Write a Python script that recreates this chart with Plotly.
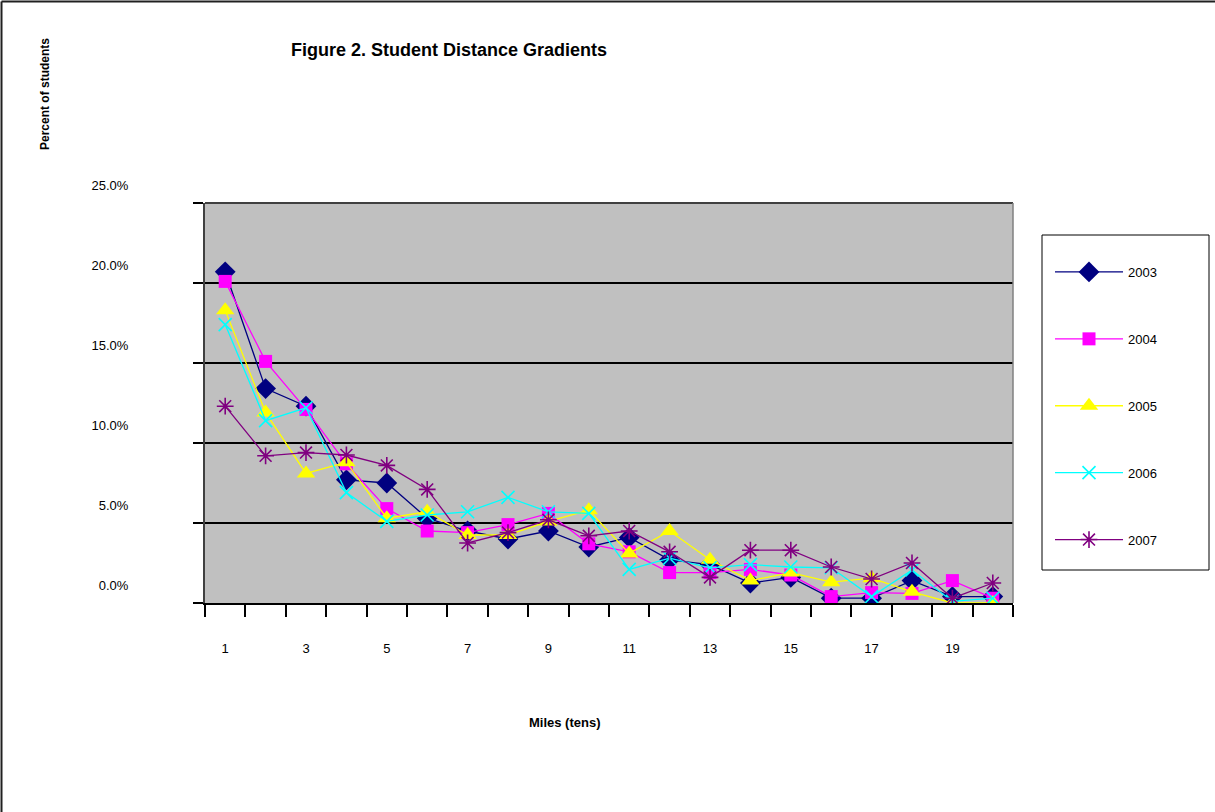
import plotly.graph_objects as go

# ---- data ----
miles = list(range(1, 21))
x_tick_vals = [1, 3, 5, 7, 9, 11, 13, 15, 17, 19]
x_tick_text = ["1", "3", "5", "7", "9", "11", "13", "15", "17", "19"]
y_tick_vals = [0, 0.05, 0.10, 0.15, 0.20, 0.25]

pct_2003 = [0.207, 0.134, 0.123, 0.077, 0.075, 0.053, 0.045, 0.040, 0.045, 0.035,
            0.041, 0.027, 0.024, 0.0125, 0.016, 0.003, 0.003, 0.014, 0.004, 0.004]
pct_2004 = [0.201, 0.151, 0.121, 0.087, 0.059, 0.045, 0.044, 0.049, 0.056, 0.037,
            0.032, 0.019, 0.019, 0.021, 0.0175, 0.004, 0.0065, 0.006, 0.014, 0.003]
pct_2005 = [0.183, 0.119, 0.081, 0.088, 0.053, 0.057, 0.0425, 0.0425, 0.051, 0.058,
            0.031, 0.045, 0.027, 0.014, 0.019, 0.013, 0.0155, 0.007, 0.000, 0.000]
pct_2006 = [0.174, 0.114, 0.122, 0.069, 0.051, 0.055, 0.057, 0.066, 0.057, 0.056,
            0.021, 0.028, 0.022, 0.024, 0.0225, 0.022, 0.004, 0.0206, 0.001, 0.003]
pct_2007 = [0.123, 0.092, 0.094, 0.0925, 0.086, 0.071, 0.0375, 0.044, 0.052, 0.042,
            0.045, 0.032, 0.016, 0.033, 0.033, 0.0225, 0.015, 0.025, 0.003, 0.0125]

series = [
    ("2003", pct_2003, "#000080", "diamond", 16),
    ("2004", pct_2004, "#FF00FF", "square", 13),
    ("2005", pct_2005, "#FFFF00", "triangle-up", 16),
    ("2006", pct_2006, "#00FFFF", "x-thin-open", 13),
    ("2007", pct_2007, "#800080", "asterisk-open", 14),
]

FONT = "Arial, 'Liberation Sans', sans-serif"

# plot area in pixels
L, R, T, B = 205, 1013, 203, 603
W, H = 1215, 812
pw, ph = R - L, B - T


def px(xp):
    return (xp - L) / pw


def py(yp):
    return (B - yp) / ph


fig = go.Figure()
for name, vals, color, symbol, size in series:
    open_sym = symbol.endswith("open")
    fig.add_trace(go.Scatter(
        x=miles, y=vals, name=name, mode="lines+markers",
        legendgroup=name,
        line=dict(color=color, width=1.3),
        marker=dict(symbol=symbol, size=size, color=color,
                    line=dict(color=color, width=1.6 if open_sym else 0)),
    ))

fig.update_layout(
    width=W, height=H,
    margin=dict(l=L, r=W - R, t=T, b=H - B, pad=0),
    paper_bgcolor="white",
    plot_bgcolor="#C0C0C0",
    font=dict(family=FONT, size=13, color="black"),
    title=dict(text="<b>Figure 2. Student Distance Gradients</b>",
               x=449 / W, xanchor="center", y=1 - 50 / H, yanchor="middle",
               font=dict(family=FONT, size=18, color="black")),
    showlegend=True,
    legend=dict(x=px(1050), xanchor="left", y=py(257), yanchor="top",
                bgcolor="rgba(0,0,0,0)", borderwidth=0,
                font=dict(family=FONT, size=13, color="black"),
                tracegroupgap=47, itemwidth=68, traceorder="grouped"),
    xaxis=dict(range=[0.5, 20.5], tickmode="array", tickvals=x_tick_vals,
               ticktext=x_tick_text, ticks="", showgrid=False, zeroline=False,
               showline=True, linecolor="black", linewidth=2, mirror=False,
               ticklabelstandoff=32,
               tickfont=dict(family=FONT, size=13, color="black"),
               minor=dict(tickvals=[i + 0.5 for i in range(0, 21)], ticks="outside",
                          ticklen=12, tickwidth=2, tickcolor="black", showgrid=False)),
    yaxis=dict(range=[0, 0.25], tickmode="array", tickvals=y_tick_vals,
               tickformat=".1%", ticks="outside", ticklen=10, tickwidth=2,
               tickcolor="black", showgrid=True, gridcolor="black", gridwidth=1.6,
               zeroline=False, showline=True, linecolor="#404040", linewidth=2,
               ticklabelshift=-18, ticklabelstandoff=62,
               tickfont=dict(family=FONT, size=13, color="black")),
)

shapes = [
    # top border of plot area and right border
    dict(type="line", xref="paper", yref="paper", x0=0, x1=1, y0=1, y1=1,
         line=dict(color="#404040", width=2)),
    dict(type="line", xref="paper", yref="paper", x0=1, x1=1, y0=0, y1=1,
         line=dict(color="#808080", width=1.5)),
    # legend box
    dict(type="rect", xref="paper", yref="paper", x0=px(1042), x1=px(1209),
         y0=py(570), y1=py(235), line=dict(color="black", width=1), layer="above"),
    # outer chart border (top and left)
    dict(type="line", xref="paper", yref="paper", x0=px(1.5), x1=px(1215),
         y0=py(1.5), y1=py(1.5), line=dict(color="#202020", width=2)),
    dict(type="line", xref="paper", yref="paper", x0=px(1.5), x1=px(1.5),
         y0=py(1.5), y1=py(812), line=dict(color="#202020", width=2)),
]
fig.update_layout(shapes=shapes)

fig.add_annotation(text="<b>Percent of students</b>", xref="paper", yref="paper",
                   x=px(45), y=py(94), xanchor="center", yanchor="middle",
                   textangle=-90, showarrow=False,
                   font=dict(family=FONT, size=12, color="black"))
fig.add_annotation(text="<b>Miles (tens)</b>", xref="paper", yref="paper",
                   x=px(565), y=py(722), xanchor="center", yanchor="middle",
                   showarrow=False, font=dict(family=FONT, size=13, color="black"))

fig.write_html("out.html", config={"displayModeBar": False},
               post_script="document.body.style.margin='0';")
